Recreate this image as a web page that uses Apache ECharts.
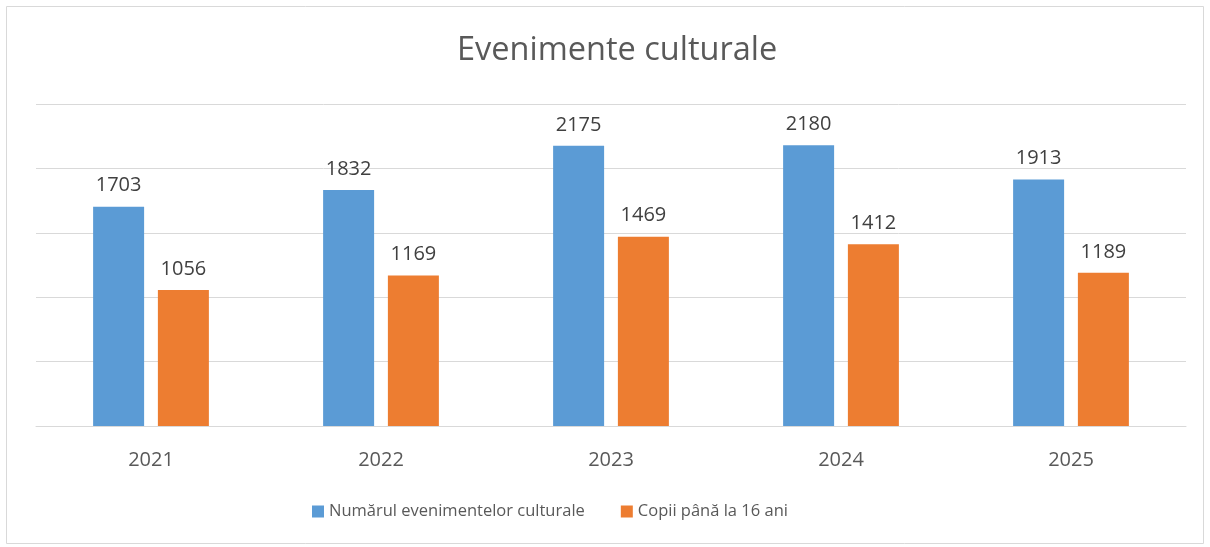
<!DOCTYPE html>
<html>
<head>
<meta charset="utf-8">
<script src="https://cdn.jsdelivr.net/npm/echarts@6/dist/echarts.min.js"></script>
<style>
  body { margin: 0; background: #fff; }
  #main { width: 1210px; height: 547px; }
</style>
</head>
<body>
<div id="main"></div>
<script>
// date
const years = ['2021', '2022', '2023', '2024', '2025'];
const evenimente = [1703, 1832, 2175, 2180, 1913];
const copii = [1056, 1169, 1469, 1412, 1189];

const font = '"Open Sans", "Noto Sans", sans-serif';
const chart = echarts.init(document.getElementById('main'));

const option = {
  animation: false,
  title: {
    text: 'Evenimente culturale',
    left: 452,
    top: 29,
    textStyle: { fontFamily: font, fontSize: 32.5, fontWeight: 'normal', color: '#595959' }
  },
  graphic: [{
    type: 'rect',
    shape: { x: 6.5, y: 6.5, width: 1197, height: 537 },
    style: { fill: 'none', stroke: '#d9d9d9', lineWidth: 1 },
    silent: true
  }],
  legend: {
    bottom: 22,
    left: 307,
    itemWidth: 12,
    itemHeight: 12,
    itemGap: 36,
    icon: 'rect',
    textStyle: { fontFamily: font, fontSize: 16.5, color: '#595959' },
    data: ['Numărul evenimentelor culturale', 'Copii până la 16 ani']
  },
  grid: { left: 36, right: 24, top: 104, bottom: 121, containLabel: false },
  xAxis: {
    type: 'category',
    data: years,
    axisLine: { lineStyle: { color: '#d9d9d9', width: 1 } },
    axisTick: { show: false },
    axisLabel: { fontFamily: font, fontSize: 20, color: '#595959', margin: 24 }
  },
  yAxis: {
    type: 'value',
    min: 0,
    max: 2500,
    interval: 500,
    axisLabel: { show: false },
    axisLine: { show: false },
    axisTick: { show: false },
    splitLine: { lineStyle: { color: '#d9d9d9', width: 1 } }
  },
  series: [
    {
      name: 'Numărul evenimentelor culturale',
      type: 'bar',
      data: evenimente,
      barWidth: 51,
      barGap: '27%',
      itemStyle: { color: '#5b9bd5' },
      label: { show: true, position: 'top', distance: 11, fontFamily: font, fontSize: 20, color: '#404040' }
    },
    {
      name: 'Copii până la 16 ani',
      type: 'bar',
      data: copii,
      barWidth: 51,
      itemStyle: { color: '#ed7d31' },
      label: { show: true, position: 'top', distance: 11, fontFamily: font, fontSize: 20, color: '#404040' }
    }
  ]
};

chart.setOption(option);
</script>
</body>
</html>
